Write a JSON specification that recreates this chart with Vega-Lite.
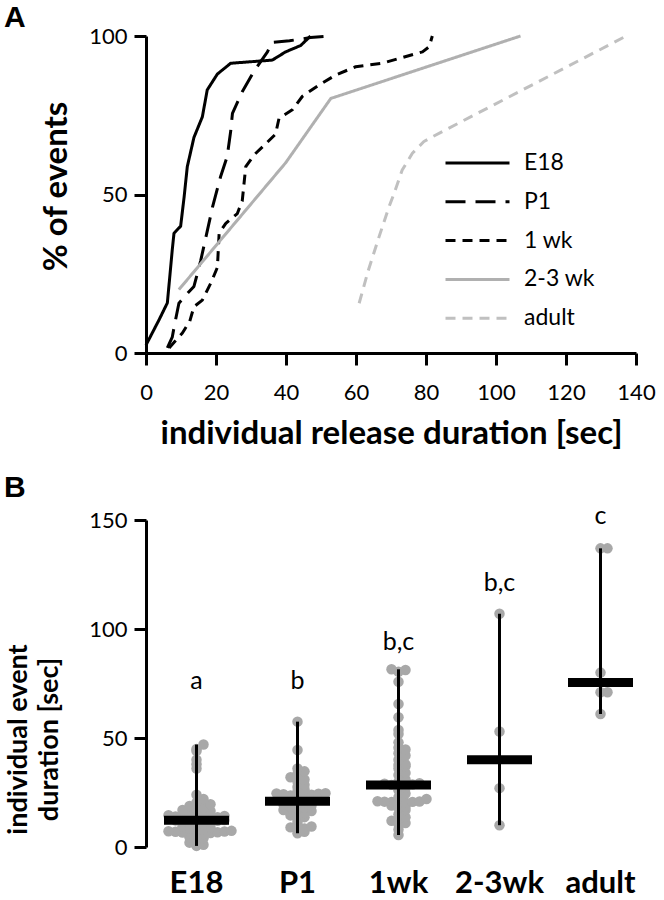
{
  "$schema": "https://vega.github.io/schema/vega-lite/v6.json",
  "background": "white",
  "padding": {"left": 4, "top": 3, "right": 5, "bottom": 0},
  "spacing": 22,
  "config": {
    "font": "Lato",
    "view": {"stroke": null},
    "axis": {"grid": false, "domainColor": "black", "tickColor": "black", "domainWidth": 3, "tickWidth": 3, "labelColor": "black", "titleColor": "black", "labelFont": "Lato", "titleFont": "Lato"},
    "title": {"font": "Liberation Sans", "fontSize": 30, "fontWeight": "bold", "color": "black"}
  },
  "datasets": {
    "cdf": [
      {"group": "E18", "duration": 0, "pct": 2.5},
      {"group": "E18", "duration": 3.7, "pct": 10.4},
      {"group": "E18", "duration": 6.1, "pct": 15.8},
      {"group": "E18", "duration": 7.5, "pct": 32.5},
      {"group": "E18", "duration": 8, "pct": 37.8},
      {"group": "E18", "duration": 9.9, "pct": 40},
      {"group": "E18", "duration": 10.9, "pct": 49.3},
      {"group": "E18", "duration": 11.8, "pct": 58.8},
      {"group": "E18", "duration": 13.7, "pct": 68},
      {"group": "E18", "duration": 16.1, "pct": 74.5},
      {"group": "E18", "duration": 17.5, "pct": 83},
      {"group": "E18", "duration": 20.4, "pct": 88},
      {"group": "E18", "duration": 24.2, "pct": 91.4},
      {"group": "E18", "duration": 36.1, "pct": 92.4},
      {"group": "E18", "duration": 39.9, "pct": 95},
      {"group": "E18", "duration": 44.2, "pct": 97},
      {"group": "E18", "duration": 47, "pct": 100},
      {"group": "P1", "duration": 6.1, "pct": 1.6},
      {"group": "P1", "duration": 7.5, "pct": 5},
      {"group": "P1", "duration": 8, "pct": 8},
      {"group": "P1", "duration": 9.4, "pct": 15.7},
      {"group": "P1", "duration": 12, "pct": 19},
      {"group": "P1", "duration": 13.7, "pct": 21},
      {"group": "P1", "duration": 15.6, "pct": 29},
      {"group": "P1", "duration": 17, "pct": 36},
      {"group": "P1", "duration": 19, "pct": 46},
      {"group": "P1", "duration": 21.3, "pct": 55.6},
      {"group": "P1", "duration": 23.2, "pct": 62},
      {"group": "P1", "duration": 24.2, "pct": 70},
      {"group": "P1", "duration": 24.7, "pct": 75.6},
      {"group": "P1", "duration": 27.5, "pct": 82.4},
      {"group": "P1", "duration": 30.9, "pct": 89},
      {"group": "P1", "duration": 34.7, "pct": 95},
      {"group": "P1", "duration": 36, "pct": 98},
      {"group": "P1", "duration": 41, "pct": 98.5},
      {"group": "P1", "duration": 47, "pct": 99.5},
      {"group": "P1", "duration": 52.7, "pct": 100},
      {"group": "1 wk", "duration": 6.6, "pct": 1.6},
      {"group": "1 wk", "duration": 8.5, "pct": 4},
      {"group": "1 wk", "duration": 10.4, "pct": 6.3},
      {"group": "1 wk", "duration": 12.5, "pct": 10},
      {"group": "1 wk", "duration": 13.7, "pct": 14.6},
      {"group": "1 wk", "duration": 16.1, "pct": 16.7},
      {"group": "1 wk", "duration": 18.5, "pct": 22},
      {"group": "1 wk", "duration": 20.4, "pct": 27},
      {"group": "1 wk", "duration": 20.9, "pct": 37.8},
      {"group": "1 wk", "duration": 22.8, "pct": 40.9},
      {"group": "1 wk", "duration": 26.1, "pct": 44},
      {"group": "1 wk", "duration": 27.5, "pct": 48},
      {"group": "1 wk", "duration": 28.5, "pct": 58.8},
      {"group": "1 wk", "duration": 30.9, "pct": 62.5},
      {"group": "1 wk", "duration": 34.2, "pct": 66},
      {"group": "1 wk", "duration": 37, "pct": 69},
      {"group": "1 wk", "duration": 38, "pct": 74},
      {"group": "1 wk", "duration": 41.8, "pct": 76.7},
      {"group": "1 wk", "duration": 44.7, "pct": 81},
      {"group": "1 wk", "duration": 49.4, "pct": 84.5},
      {"group": "1 wk", "duration": 54.2, "pct": 87.7},
      {"group": "1 wk", "duration": 59.9, "pct": 90.3},
      {"group": "1 wk", "duration": 67.5, "pct": 91.4},
      {"group": "1 wk", "duration": 79, "pct": 95},
      {"group": "1 wk", "duration": 80.9, "pct": 96.6},
      {"group": "1 wk", "duration": 81.8, "pct": 100},
      {"group": "2-3 wk", "duration": 9.4, "pct": 20},
      {"group": "2-3 wk", "duration": 39.9, "pct": 60},
      {"group": "2-3 wk", "duration": 52.8, "pct": 80.3},
      {"group": "2-3 wk", "duration": 107, "pct": 100},
      {"group": "adult", "duration": 60.9, "pct": 15.7},
      {"group": "adult", "duration": 63.5, "pct": 26},
      {"group": "adult", "duration": 66.6, "pct": 36.7},
      {"group": "adult", "duration": 69.4, "pct": 46},
      {"group": "adult", "duration": 70.9, "pct": 50.4},
      {"group": "adult", "duration": 73.2, "pct": 57.7},
      {"group": "adult", "duration": 76.1, "pct": 63},
      {"group": "adult", "duration": 79.4, "pct": 66.7},
      {"group": "adult", "duration": 81.8, "pct": 68.2},
      {"group": "adult", "duration": 137.2, "pct": 100}
    ],
    "events": [
      {"group": "E18", "value": 0.5}, {"group": "E18", "value": 1}, {"group": "E18", "value": 2}, {"group": "E18", "value": 3}, {"group": "E18", "value": 4}, {"group": "E18", "value": 4.5}, {"group": "E18", "value": 5}, {"group": "E18", "value": 6},
      {"group": "E18", "value": 6.2}, {"group": "E18", "value": 6.4}, {"group": "E18", "value": 6.6}, {"group": "E18", "value": 6.8}, {"group": "E18", "value": 7}, {"group": "E18", "value": 7.1}, {"group": "E18", "value": 7.2}, {"group": "E18", "value": 7.4}, {"group": "E18", "value": 7.5},
      {"group": "E18", "value": 8}, {"group": "E18", "value": 8.5}, {"group": "E18", "value": 9}, {"group": "E18", "value": 9.5}, {"group": "E18", "value": 10},
      {"group": "E18", "value": 10.4}, {"group": "E18", "value": 10.8}, {"group": "E18", "value": 11.2}, {"group": "E18", "value": 11.6}, {"group": "E18", "value": 12}, {"group": "E18", "value": 12.2}, {"group": "E18", "value": 12.4}, {"group": "E18", "value": 12.6},
      {"group": "E18", "value": 12.8}, {"group": "E18", "value": 13}, {"group": "E18", "value": 13.3}, {"group": "E18", "value": 13.5}, {"group": "E18", "value": 13.7}, {"group": "E18", "value": 14}, {"group": "E18", "value": 14.2},
      {"group": "E18", "value": 14.6}, {"group": "E18", "value": 15}, {"group": "E18", "value": 15.5}, {"group": "E18", "value": 16},
      {"group": "E18", "value": 16.5}, {"group": "E18", "value": 17}, {"group": "E18", "value": 17.5}, {"group": "E18", "value": 18},
      {"group": "E18", "value": 18.8}, {"group": "E18", "value": 19.6}, {"group": "E18", "value": 20.4}, {"group": "E18", "value": 22}, {"group": "E18", "value": 24},
      {"group": "E18", "value": 36}, {"group": "E18", "value": 38}, {"group": "E18", "value": 40}, {"group": "E18", "value": 44}, {"group": "E18", "value": 45}, {"group": "E18", "value": 47},
      {"group": "P1", "value": 6.3}, {"group": "P1", "value": 7}, {"group": "P1", "value": 8}, {"group": "P1", "value": 8.5}, {"group": "P1", "value": 9}, {"group": "P1", "value": 9.4}, {"group": "P1", "value": 11}, {"group": "P1", "value": 12.5}, {"group": "P1", "value": 13.7},
      {"group": "P1", "value": 14.5}, {"group": "P1", "value": 15}, {"group": "P1", "value": 15.6}, {"group": "P1", "value": 16}, {"group": "P1", "value": 16.5}, {"group": "P1", "value": 17}, {"group": "P1", "value": 17.5}, {"group": "P1", "value": 18}, {"group": "P1", "value": 18.5},
      {"group": "P1", "value": 19}, {"group": "P1", "value": 19.5}, {"group": "P1", "value": 20}, {"group": "P1", "value": 20.5}, {"group": "P1", "value": 21}, {"group": "P1", "value": 21.3}, {"group": "P1", "value": 22}, {"group": "P1", "value": 22.5}, {"group": "P1", "value": 23.2},
      {"group": "P1", "value": 23.6}, {"group": "P1", "value": 24}, {"group": "P1", "value": 24.2}, {"group": "P1", "value": 24.4}, {"group": "P1", "value": 24.6}, {"group": "P1", "value": 24.7}, {"group": "P1", "value": 25.5}, {"group": "P1", "value": 26.5}, {"group": "P1", "value": 27.5},
      {"group": "P1", "value": 28.5}, {"group": "P1", "value": 30}, {"group": "P1", "value": 31}, {"group": "P1", "value": 32}, {"group": "P1", "value": 33.5}, {"group": "P1", "value": 34.7}, {"group": "P1", "value": 36}, {"group": "P1", "value": 44.5}, {"group": "P1", "value": 57.5},
      {"group": "1wk", "value": 5.5}, {"group": "1wk", "value": 8}, {"group": "1wk", "value": 10.4}, {"group": "1wk", "value": 11}, {"group": "1wk", "value": 12}, {"group": "1wk", "value": 13}, {"group": "1wk", "value": 13.7}, {"group": "1wk", "value": 15}, {"group": "1wk", "value": 17},
      {"group": "1wk", "value": 18}, {"group": "1wk", "value": 18.5}, {"group": "1wk", "value": 19}, {"group": "1wk", "value": 20}, {"group": "1wk", "value": 20.4}, {"group": "1wk", "value": 20.6}, {"group": "1wk", "value": 20.7}, {"group": "1wk", "value": 20.8}, {"group": "1wk", "value": 20.9},
      {"group": "1wk", "value": 21}, {"group": "1wk", "value": 22}, {"group": "1wk", "value": 22.8}, {"group": "1wk", "value": 24.5}, {"group": "1wk", "value": 26}, {"group": "1wk", "value": 27}, {"group": "1wk", "value": 28}, {"group": "1wk", "value": 28.3}, {"group": "1wk", "value": 28.5},
      {"group": "1wk", "value": 28.7}, {"group": "1wk", "value": 29}, {"group": "1wk", "value": 29.3}, {"group": "1wk", "value": 30}, {"group": "1wk", "value": 31}, {"group": "1wk", "value": 33}, {"group": "1wk", "value": 34}, {"group": "1wk", "value": 36}, {"group": "1wk", "value": 37},
      {"group": "1wk", "value": 37.6}, {"group": "1wk", "value": 38}, {"group": "1wk", "value": 40}, {"group": "1wk", "value": 42}, {"group": "1wk", "value": 43}, {"group": "1wk", "value": 44.7}, {"group": "1wk", "value": 45.5}, {"group": "1wk", "value": 48}, {"group": "1wk", "value": 51.8},
      {"group": "1wk", "value": 53.7}, {"group": "1wk", "value": 59.5}, {"group": "1wk", "value": 65.6}, {"group": "1wk", "value": 75.8}, {"group": "1wk", "value": 80.4}, {"group": "1wk", "value": 81.2}, {"group": "1wk", "value": 81.5},
      {"group": "2-3wk", "value": 10}, {"group": "2-3wk", "value": 27}, {"group": "2-3wk", "value": 53}, {"group": "2-3wk", "value": 107},
      {"group": "adult", "value": 61}, {"group": "adult", "value": 71}, {"group": "adult", "value": 71}, {"group": "adult", "value": 80}, {"group": "adult", "value": 137}, {"group": "adult", "value": 137}
    ],
    "letters": [
      {"group": "E18", "label": "a", "at": 76},
      {"group": "P1", "label": "b", "at": 76},
      {"group": "1wk", "label": "b,c", "at": 94},
      {"group": "2-3wk", "label": "b,c", "at": 121},
      {"group": "adult", "label": "c", "at": 152}
    ]
  },
  "vconcat": [
    {
      "width": 490,
      "height": 317,
      "title": {"text": "A", "anchor": "start", "frame": "group", "dx": -142, "offset": -8},
      "data": {"name": "cdf"},
      "mark": {"type": "line", "strokeWidth": 3, "strokeCap": "butt", "strokeJoin": "round"},
      "encoding": {
        "x": {
          "field": "duration", "type": "quantitative",
          "scale": {"domain": [0, 140], "nice": false},
          "axis": {"values": [0, 20, 40, 60, 80, 100, 120, 140], "title": "individual release duration [sec]", "titleFontSize": 33, "titleFontWeight": "bold", "labelFontSize": 22, "tickSize": 12, "labelPadding": 17, "labelFlush": false, "titleY": 90, "titleBaseline": "alphabetic"}
        },
        "y": {
          "field": "pct", "type": "quantitative",
          "scale": {"domain": [0, 100], "nice": false},
          "axis": {"values": [0, 50, 100], "title": "% of events", "titleFontSize": 33, "titleFontWeight": "bold", "labelFontSize": 22, "tickSize": 12, "labelPadding": 7, "titleX": -90, "titleY": 150, "titleBaseline": "middle", "titleAlign": "center"}
        },
        "color": {
          "field": "group", "type": "nominal",
          "scale": {"domain": ["E18", "P1", "1 wk", "2-3 wk", "adult"], "range": ["#000000", "#000000", "#000000", "#b0b0b0", "#c0c0c0"]},
          "legend": {"title": null, "orient": "none", "legendX": 298, "legendY": 117, "symbolType": "stroke", "symbolSize": 4096, "symbolStrokeWidth": 3, "labelFontSize": 23, "labelFont": "Lato", "labelColor": "black", "clipHeight": 20, "rowPadding": 15.8, "labelOffset": 13, "padding": 0}
        },
        "strokeDash": {
          "field": "group", "type": "nominal",
          "scale": {"domain": ["E18", "P1", "1 wk", "2-3 wk", "adult"], "range": [[1, 0], [20, 10], [10, 7], [1, 0], [10, 7]]},
          "legend": {"title": null, "orient": "none", "legendX": 298, "legendY": 117, "symbolType": "stroke", "symbolSize": 4096, "symbolStrokeWidth": 3, "labelFontSize": 23, "labelFont": "Lato", "labelColor": "black", "clipHeight": 20, "rowPadding": 15.8, "labelOffset": 13, "padding": 0}
        },
        "order": {"field": "pct", "type": "quantitative"}
      }
    },
    {
      "width": 505,
      "height": 327,
      "title": {"text": "B", "anchor": "start", "frame": "group", "dx": -142, "offset": -5, "dy": -6},
      "layer": [
        {
          "data": {"name": "events"},
          "transform": [
            {"bin": {"step": 2.5}, "field": "value", "as": "vbin"},
            {"window": [{"op": "row_number", "as": "lane"}], "groupby": ["group", "vbin"], "sort": [{"field": "value", "order": "ascending"}]}
          ],
          "mark": {"type": "circle", "size": 110, "opacity": 1, "color": "#a8a8a8"},
          "encoding": {
            "x": {"field": "group", "type": "nominal", "sort": ["E18", "P1", "1wk", "2-3wk", "adult"], "scale": {"paddingInner": 0, "paddingOuter": 0},
              "axis": {"title": null, "domain": false, "ticks": false, "tickSize": 0, "labelAngle": 0, "labelFontSize": 31, "labelFontWeight": "bold", "labelPadding": 21}},
            "xOffset": {"field": "lane", "type": "ordinal", "scale": {"type": "point", "padding": 0, "domain": [11, 9, 7, 5, 3, 1, 2, 4, 6, 8, 10, 12], "range": [15.5, 92.5]}},
            "y": {"field": "value", "type": "quantitative", "scale": {"domain": [0, 150], "nice": false},
              "axis": {"values": [0, 50, 100, 150], "title": ["individual event", "duration [sec]"], "titleFontSize": 27, "titleFontWeight": "bold", "titleLineHeight": 31, "labelFontSize": 22, "tickSize": 12, "labelPadding": 7, "titleX": -128, "titleY": 219, "titleBaseline": "middle", "titleAlign": "center"}}
          }
        },
        {
          "data": {"name": "events"},
          "mark": {"type": "rule", "strokeWidth": 3, "color": "black"},
          "encoding": {
            "x": {"field": "group", "type": "nominal", "sort": ["E18", "P1", "1wk", "2-3wk", "adult"]},
            "y": {"aggregate": "min", "field": "value", "type": "quantitative"},
            "y2": {"aggregate": "max", "field": "value"}
          }
        },
        {
          "data": {"name": "events"},
          "mark": {"type": "tick", "thickness": 9, "size": 65, "color": "black", "opacity": 1, "orient": "horizontal"},
          "encoding": {
            "x": {"field": "group", "type": "nominal", "sort": ["E18", "P1", "1wk", "2-3wk", "adult"]},
            "y": {"aggregate": "median", "field": "value", "type": "quantitative"}
          }
        },
        {
          "data": {"name": "letters"},
          "mark": {"type": "text", "fontSize": 25, "font": "Lato", "color": "black", "baseline": "middle"},
          "encoding": {
            "x": {"field": "group", "type": "nominal", "sort": ["E18", "P1", "1wk", "2-3wk", "adult"]},
            "y": {"field": "at", "type": "quantitative"},
            "text": {"field": "label"}
          }
        }
      ]
    }
  ]
}
